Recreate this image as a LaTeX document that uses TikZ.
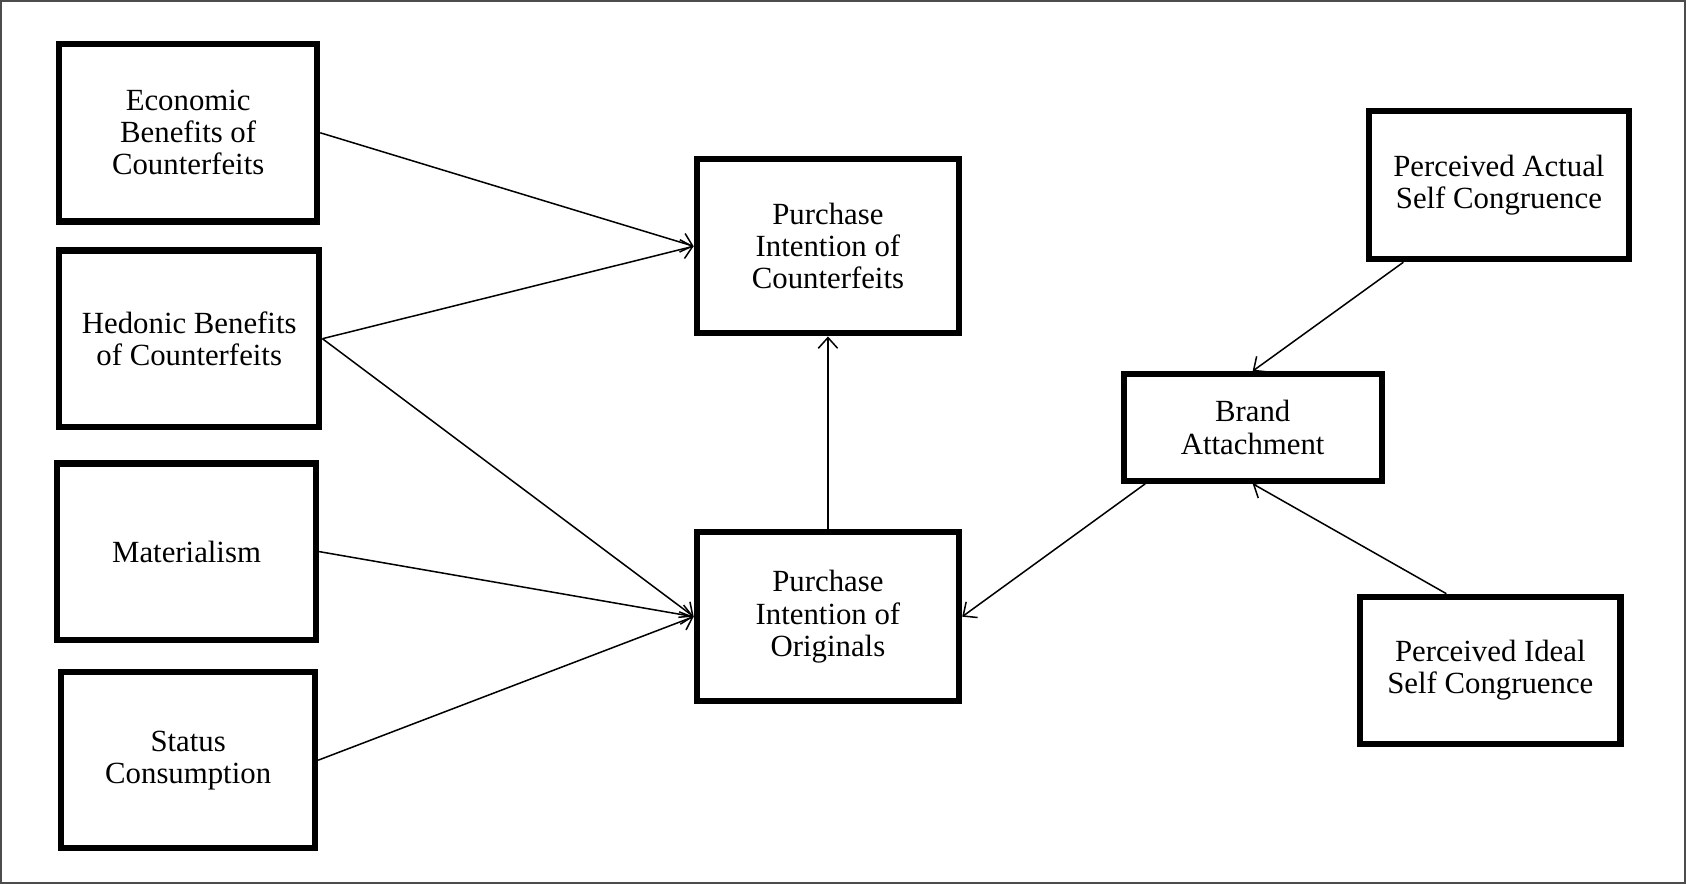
\documentclass[tikz,border=0pt]{standalone}
\usepackage{fontspec}
\setmainfont{Liberation Serif}
\usetikzlibrary{arrows.meta}

\begin{document}
\begin{tikzpicture}[x=0.02cm, y=-0.02cm,
    box/.style={draw, line width=3.3pt, align=center, inner sep=0pt,
      font=\fontsize{16.3}{17}\selectfont},
    link/.style={->, line width=0.8pt},
    >={Straight Barb[length=2mm,width=3.6mm]}]
  \useasboundingbox (0,0) rectangle (1568,822);
  \draw[gray!60!black, line width=0.8pt] (1,1) rectangle (1567,821);

  % antecedents
  \node[box, minimum width=4.80cm, minimum height=3.30cm] (econ) at (175,123.5) {Economic\\Benefits of\\Counterfeits};
  \node[box, minimum width=4.84cm, minimum height=3.28cm] (hedon) at (176,315) {Hedonic Benefits\\of Counterfeits};
  \node[box, minimum width=4.82cm, minimum height=3.28cm] (mater) at (173.5,513) {Materialism};
  \node[box, minimum width=4.72cm, minimum height=3.28cm] (status) at (175,707) {Status\\Consumption};

  % outcomes
  \node[box, minimum width=4.88cm, minimum height=3.24cm] (picount) at (770,229) {Purchase\\Intention of\\Counterfeits};
  \node[box, minimum width=4.88cm, minimum height=3.14cm] (piorig) at (770,573.5) {Purchase\\Intention of\\Originals};

  % brand side
  \node[box, minimum width=4.80cm, minimum height=1.98cm] (brand) at (1165,397.5) {Brand\\Attachment};
  \node[box, minimum width=4.84cm, minimum height=2.76cm] (actual) at (1394,172) {Perceived Actual\\Self Congruence};
  \node[box, minimum width=4.84cm, minimum height=2.74cm] (ideal) at (1386,623.5) {Perceived Ideal\\Self Congruence};

  \draw[link] (econ.east) -- (picount.west);
  \draw[link] (hedon.east) -- (picount.west);
  \draw[link] (hedon.east) -- (piorig.west);
  \draw[link] (mater.east) -- (piorig.west);
  \draw[link] (status.east) -- (piorig.west);
  \draw[link] (piorig.north) -- (picount.south);
  \draw[link] ([xshift=0.46cm]brand.south west) -- (piorig.east);
  \draw[link] ([xshift=0.70cm]actual.south west) -- (brand.north);
  \draw[link] ([xshift=1.66cm]ideal.north west) -- (brand.south);
\end{tikzpicture}
\end{document}
